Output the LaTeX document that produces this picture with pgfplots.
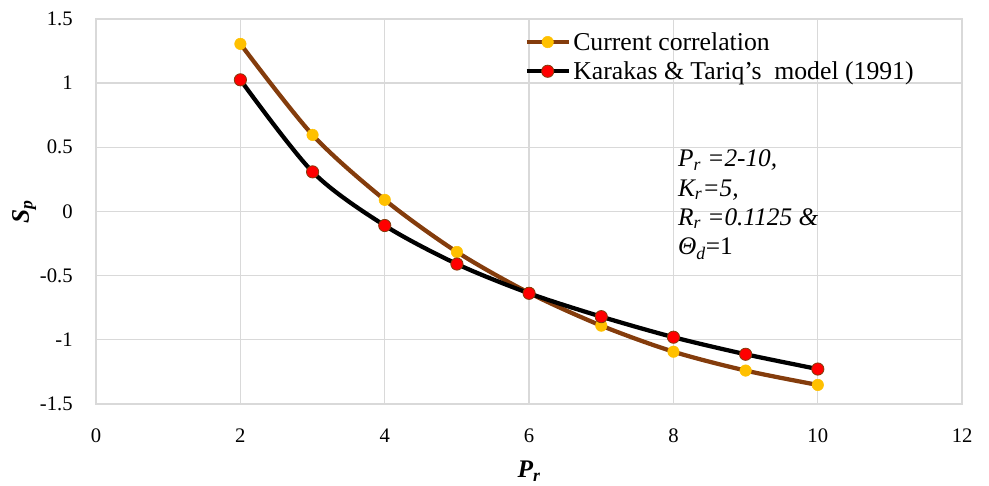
\documentclass[border=0pt]{standalone}
\usepackage{pgfplots}
\pgfplotsset{compat=1.18}
\usepackage{fontspec}
\setmainfont{LiberationSerif}[Extension=.ttf, UprightFont=*-Regular, BoldFont=*-Bold, ItalicFont=*-Italic, BoldItalicFont=*-BoldItalic]
\definecolor{brn}{HTML}{843C0C}
\definecolor{gold}{HTML}{FFC000}
\definecolor{gridc}{HTML}{D9D9D9}
\begin{document}
\begin{tikzpicture}
\begin{axis}[
  scale only axis,
  width=650pt, height=289pt,
  xmin=0, xmax=12, ymin=-1.5, ymax=1.5,
  clip=false,
  xtick={0,2,...,12},
  ytick={-1.5,-1,...,1.5},
  yticklabel style={/pgf/number format/fixed, xshift=-14pt},
  xticklabel style={yshift=-15pt},
  /pgf/number format/assume math mode=true,
  grid=major,
  major grid style={gridc, line width=1pt},
  axis line style={gridc, line width=1pt},
  tick style={draw=none},
  ticklabel style={font=\fontsize{15.5}{18}\selectfont},
  xlabel={\textbf{\textit{P\textsubscript{r}}}},
  ylabel={\textbf{\textit{S\textsubscript{p}}}},
  xlabel style={yshift=-7pt},
  ylabel style={yshift=-4pt},
  label style={font=\fontsize{19}{22}\selectfont},
  legend style={draw=none, fill=none, at={(0.49,0.98)}, anchor=north west,
    font=\fontsize{19.3}{22}\selectfont, row sep=3pt},
  legend cell align=left,
  legend image code/.code={
    \draw[#1] (0cm,0cm) -- (1.1cm,0cm);
    \draw[#1, mark repeat=2, mark phase=2] plot coordinates {(0cm,0cm) (0.55cm,0cm) (1.1cm,0cm)};
  },
]
\addplot[brn, line width=3.2pt, smooth, mark=*, mark size=4.3pt,
  mark options={fill=gold, draw=gold, line width=0.4pt}]
  coordinates {(2,1.305) (3,0.596) (4,0.09) (5,-0.316) (6,-0.635) (7,-0.89) (8,-1.093) (9,-1.24) (10,-1.352)};
\addplot[black, line width=3.2pt, smooth, mark=*, mark size=4.6pt,
  mark options={fill=red, draw=brn, line width=0.6pt}]
  coordinates {(2,1.025) (3,0.308) (4,-0.11) (5,-0.41) (6,-0.638) (7,-0.82) (8,-0.98) (9,-1.113) (10,-1.228)};
\legend{Current correlation, Karakas \& Tariq’s\ \ model (1991)}
\node[anchor=north west, align=left, font=\fontsize{19}{22}\selectfont\itshape, inner sep=0pt]
  at (axis cs:8.06,0.48) {P\textsubscript{r} =2-10,\\K\textsubscript{r}=5,\\R\textsubscript{r} =0.1125 \&\\\textit{Θ}\textsubscript{d}\textup{=1}};
\path (axis description cs:-0.1109,-0.213) (axis description cs:1.031,1.049);
\end{axis}
\end{tikzpicture}
\end{document}
